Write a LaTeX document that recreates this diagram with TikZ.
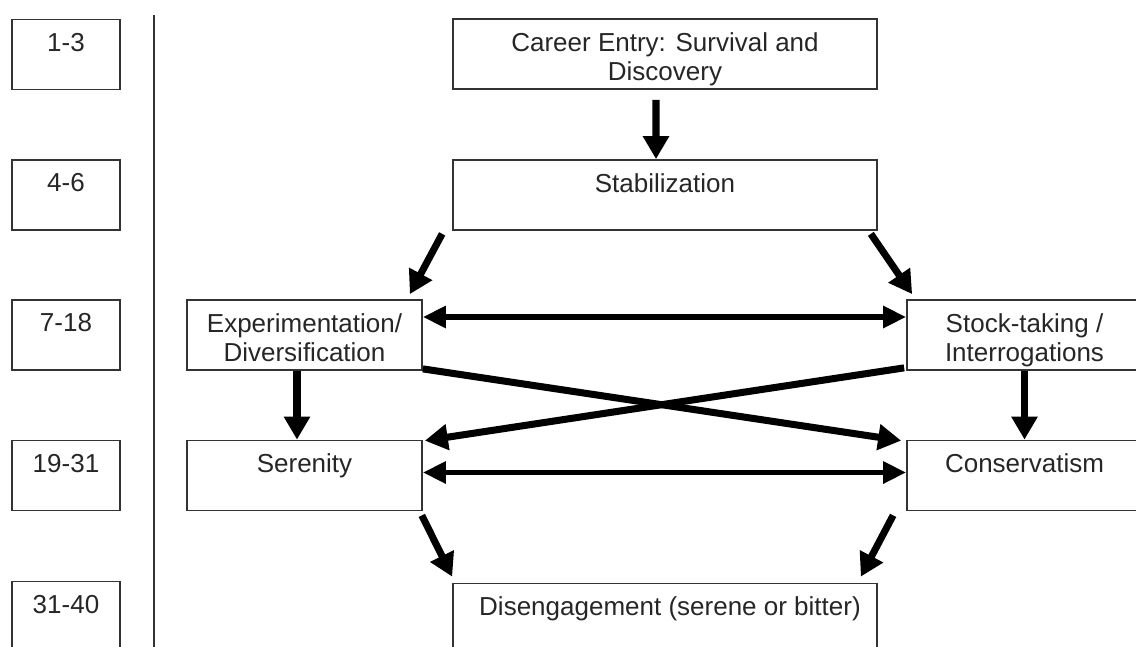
\documentclass[tikz,border=0pt]{standalone}
\usepackage{fontspec}
\setmainfont{Liberation Sans}
\usetikzlibrary{arrows.meta}
\colorlet{box edge}{black!80}
\colorlet{box text}{black!85}
\tikzset{stage/.style={draw=box edge, line width=1pt, minimum width=4.7cm, minimum height=1.4cm, inner sep=0pt},
	wide/.style={stage, minimum width=8.48cm},
	yearbox/.style={stage, minimum width=2.16cm},
	lbl/.style={anchor=north, inner sep=0pt, yshift=-0.28cm, align=center, text=box text, font=\fontsize{14.8}{16.5}\selectfont},
	flow/.style={line width=4pt, -{Triangle[length=0.46cm, width=0.5cm]}},
	both/.style={line width=3.4pt, {Triangle[length=0.46cm, width=0.42cm]}-{Triangle[length=0.46cm, width=0.42cm]}}}

\begin{document}
\begin{tikzpicture}[x=0.02cm, y=-0.02cm]
		\useasboundingbox (0,0) rectangle (1136,646);
		% years
		\node[yearbox, label={[lbl]north:1-3}] (y13) at (66,54.5) {};
		\node[yearbox, label={[lbl]north:4-6}] (y46) at (66,195) {};
		\node[yearbox, label={[lbl]north:7-18}] (y718) at (66,335) {};
		\node[yearbox, label={[lbl]north:19-31}] (y1931) at (66,475.5) {};
		\node[yearbox, label={[lbl]north:31-40}] (y3140) at (66,616.5) {};
		\draw[box edge, line width=1pt] (154,15) -- (154,650);
		
		% phases
		\node[wide, label={[lbl]north:{Career Entry: Survival and\\Discovery}}] (entry) at (665,54) {};
		\node[wide, label={[lbl]north:Stabilization}] (stab) at (665,195) {};
		\node[stage, label={[lbl]north:{Experimentation/\\Diversification}}] (exper) at (304.5,335) {};
		\node[stage, label={[lbl]north:{Stock-taking /\\Interrogations}}] (stock) at (1024.5,335) {};
		\node[stage, label={[lbl]north:Serenity}] (seren) at (304.5,475.5) {};
		\node[stage, label={[lbl]north:Conservatism}] (conserv) at (1024.5,475.5) {};
		\node[wide, label={[lbl, xshift=0.1cm]north:Disengagement (serene or bitter)}] (diseng) at (665,618.5) {};
		
		\draw[flow] ([shift={(-9,10)}]entry.south) -- ([xshift=-0.18cm]stab.north);
		\draw[flow] ([shift={(-10,3)}]stab.south west) -- ([shift={(-13,-5)}]exper.north east);
		\draw[flow] ([shift={(-7,3)}]stab.south east) -- ([shift={(6,-5)}]stock.north west);
		\draw[both] ([shift={(0,-18)}]exper.east) -- ([shift={(0,-18)}]stock.west);
		\draw[flow] ([shift={(0,-2)}]exper.south east) -- ([shift={(-5,1)}]conserv.north west);
		\draw[flow] ([shift={(-2,-3)}]stock.south west) -- ([shift={(2,1)}]seren.north east);
		\draw[flow] ([xshift=-0.15cm]exper.south) -- ([xshift=-0.15cm]seren.north);
		\draw[flow] (stock.south) -- (conserv.north);
		\draw[both] ([shift={(0,-3)}]seren.east) -- ([shift={(0,-3)}]conserv.west);
		\draw[flow] ([shift={(-1,4)}]seren.south east) -- ([shift={(0,-6)}]diseng.north west);
		\draw[flow] ([shift={(-13,4)}]conserv.south west) -- ([shift={(-17,-6)}]diseng.north east);
\end{tikzpicture}
\end{document}
